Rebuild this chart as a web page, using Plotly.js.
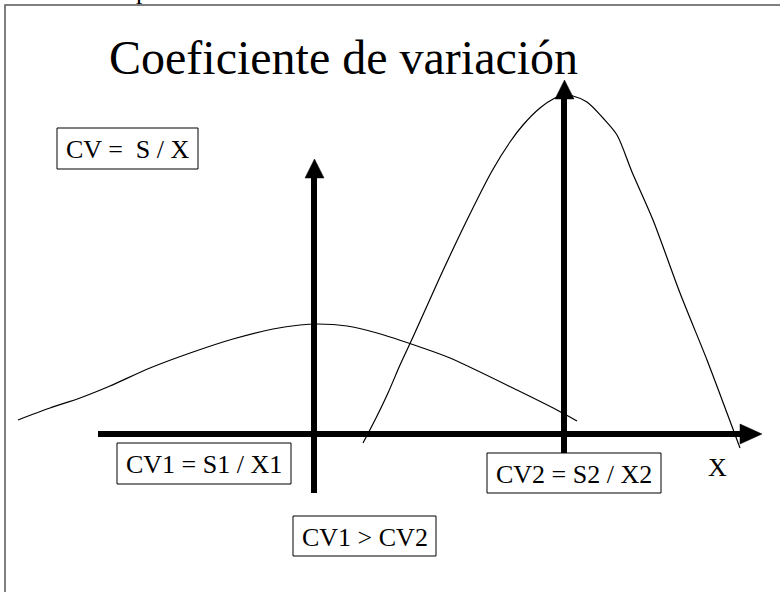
<!DOCTYPE html>
<html>
<head>
<meta charset="utf-8">
<script src="https://cdn.plot.ly/plotly-3.0.1.min.js"></script>
<style>html,body{margin:0;padding:0;background:#fff;}#chart{width:780px;height:592px;}</style>
</head>
<body>
<div id="chart"></div>
<script>
// Wide, flat distribution (CV1)
const flatX = [18, 50, 80, 110, 150, 193, 233, 273, 300, 317, 347, 377, 420, 450, 517, 557, 577];
const flatY = [420, 408, 398, 386, 368, 352, 339, 329, 325, 324, 326, 333, 347, 358, 390, 410, 421];
// Narrow, tall distribution (CV2)
const tallX = [363, 376, 388, 400, 413, 440, 467, 492, 510, 523, 540, 555, 564, 573, 587, 603, 617, 632, 653, 680, 707, 727, 740];
const tallY = [443, 418, 393, 365, 337, 277, 220, 171, 142, 125, 108, 98, 95, 96, 102, 118, 135, 172, 220, 293, 360, 413, 448];
// Axis and mean arrows
const axisX = [98, 742];
const axisY = [434, 434];
const axisHeadX = [740, 762, 740, 740];
const axisHeadY = [424, 434, 444, 424];
const mean1X = [314, 314];
const mean1Y = [493, 176];
const mean1HeadX = [305, 314.5, 324, 305];
const mean1HeadY = [178, 159, 178, 178];
const mean2X = [564, 564];
const mean2Y = [453, 97];
const mean2HeadX = [555, 564.5, 574, 555];
const mean2HeadY = [99, 80, 99, 99];
// Text labels
const titleText = "Coeficiente de variación";
const boxTexts = ["CV =\u00a0 S / X", "CV1 = S1 / X1", "CV2 = S2 / X2", "CV1 > CV2"];
const boxX0 = [57, 117, 487, 293];
const boxX1 = [198, 291, 661, 436];
const boxY0 = [128, 443, 453, 516];
const boxY1 = [169, 484, 493, 556];
const axisLabel = "X";

const serif = "Liberation Serif, Times New Roman, serif";

const traces = [
  {x: flatX, y: flatY, mode: 'lines', line: {color: '#000', width: 1.2, shape: 'spline', smoothing: 0.8}},
  {x: tallX, y: tallY, mode: 'lines', line: {color: '#000', width: 1.2, shape: 'spline', smoothing: 0.8}},
  {x: axisX, y: axisY, mode: 'lines', line: {color: '#000', width: 6}},
  {x: axisHeadX, y: axisHeadY, mode: 'lines', fill: 'toself', fillcolor: '#000', line: {color: '#000', width: 0.5}},
  {x: mean1X, y: mean1Y, mode: 'lines', line: {color: '#000', width: 6}},
  {x: mean1HeadX, y: mean1HeadY, mode: 'lines', fill: 'toself', fillcolor: '#000', line: {color: '#000', width: 0.5}},
  {x: mean2X, y: mean2Y, mode: 'lines', line: {color: '#000', width: 6}},
  {x: mean2HeadX, y: mean2HeadY, mode: 'lines', fill: 'toself', fillcolor: '#000', line: {color: '#000', width: 0.5}}
];

const shapes = [
  {type: 'rect', xref: 'x', yref: 'y', x0: 5, x1: 800, y0: 5, y1: 620,
   line: {color: '#555', width: 1.5}, fillcolor: 'rgba(0,0,0,0)', layer: 'below'}
];
boxTexts.forEach((t, i) => {
  shapes.push({type: 'rect', xref: 'x', yref: 'y', x0: boxX0[i], x1: boxX1[i], y0: boxY0[i], y1: boxY1[i],
    line: {color: '#000', width: 1}, fillcolor: '#fff', layer: 'above'});
});

const annotations = [
  {x: 107, y: 57, xref: 'x', yref: 'y', text: titleText, showarrow: false, xanchor: 'left', yanchor: 'middle',
   font: {family: serif, size: 48, color: '#000'}},
  {x: 717, y: 467, xref: 'x', yref: 'y', text: axisLabel, showarrow: false, xanchor: 'center', yanchor: 'middle',
   font: {family: serif, size: 26, color: '#000'}},
  {x: 142, y: 7, xref: 'x', yref: 'y', text: 'p', showarrow: false, xanchor: 'center', yanchor: 'bottom',
   font: {family: serif, size: 26, color: '#000'}}
];
boxTexts.forEach((t, i) => {
  annotations.push({x: (boxX0[i] + boxX1[i]) / 2, y: (boxY0[i] + boxY1[i]) / 2 + 1, xref: 'x', yref: 'y',
    text: t, showarrow: false, xanchor: 'center', yanchor: 'middle',
    font: {family: serif, size: 26, color: '#000'}});
});

const layout = {
  width: 780, height: 592,
  margin: {l: 0, r: 0, t: 0, b: 0},
  paper_bgcolor: '#fff', plot_bgcolor: '#fff',
  showlegend: false,
  xaxis: {range: [0, 780], visible: false, fixedrange: true},
  yaxis: {range: [592, 0], visible: false, fixedrange: true},
  shapes: shapes,
  annotations: annotations
};

Plotly.newPlot('chart', traces, layout, {staticPlot: true, displayModeBar: false});
</script>
</body>
</html>
